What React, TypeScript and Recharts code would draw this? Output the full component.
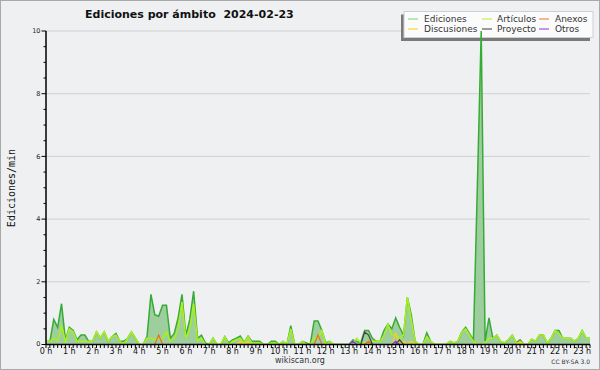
import React from "react";
import { ComposedChart, Area, Line, XAxis, YAxis, ReferenceLine } from "recharts";

// 10-minute slots from 00:00 to 23:20
const SLOTS: number[] = Array.from({ length: 141 }, (_, i) => i);

const HOUR_LABELS = [
  "0 h", "1 h", "2 h", "3 h", "4 h", "5 h", "6 h", "7 h", "8 h", "9 h", "10 h", "11 h",
  "12 h", "13 h", "14 h", "15 h", "16 h", "17 h", "18 h", "19 h", "20 h", "21 h", "22 h", "23 h",
];

const Y_TICKS = [0, 0.5, 1, 1.5, 2, 2.5, 3, 3.5, 4, 4.5, 5, 5.5, 6, 6.5, 7, 7.5, 8, 8.5, 9, 9.5, 10];
const Y_LABELED = [0, 2, 4, 6, 8, 10];
const GRID_VALUES = [2, 4, 6, 8, 10];

const EDICIONES = [
  0.1, 0.1, 0.8, 0.55, 1.3, 0.15, 0.55, 0.45, 0.15, 0.3,
  0.3, 0.1, 0.1, 0.4, 0.2, 0.4, 0.1, 0.25, 0.35, 0.1,
  0.1, 0.2, 0.4, 0.2, 0, 0, 0.25, 1.6, 0.95, 0.9,
  1.25, 1.25, 0.2, 0.35, 0.85, 1.6, 0.3, 0.8, 1.7, 0.2,
  0.3, 0.05, 0, 0.2, 0, 0, 0.25, 0.05, 0.15, 0.2,
  0.27, 0.07, 0.27, 0.1, 0.1, 0.1, 0, 0, 0.1, 0.1,
  0, 0.1, 0, 0.6, 0, 0, 0.1, 0.05, 0, 0.75,
  0.75, 0.45, 0.05, 0.1, 0, 0, 0, 0, 0, 0.15,
  0.1, 0.05, 0.45, 0.45, 0.2, 0.1, 0.1, 0.45, 0.65, 0.5,
  0.85, 0.55, 0.3, 1.5, 0.95, 0.1, 0, 0, 0.37, 0.1,
  0, 0, 0, 0, 0.1, 0.05, 0.1, 0.4, 0.55, 0.35,
  0.15, 5, 10, 0.1, 0.85, 0.2, 0.3, 0.1, 0.05, 0.15,
  0.3, 0.05, 0.15, 0, 0, 0.17, 0.1, 0.3, 0.3, 0.05,
  0.2, 0.45, 0.45, 0.2, 0.2, 0.2, 0.1, 0.2, 0.45, 0.2, 0.2,
];

const ARTICULOS = [
  0.1, 0.1, 0.2, 0.1, 0.6, 0.1, 0.5, 0.4, 0.1, 0.1,
  0.1, 0.1, 0.1, 0.4, 0.2, 0.4, 0.1, 0.25, 0.3, 0.1,
  0, 0.2, 0.4, 0.2, 0, 0, 0.2, 0.2, 0.15, 0.2,
  0.2, 0.4, 0.1, 0.2, 0.5, 1.35, 0.2, 0.5, 1.3, 0.1,
  0.2, 0, 0, 0.2, 0, 0, 0.25, 0, 0.1, 0.15,
  0.2, 0.05, 0.25, 0.05, 0.05, 0.05, 0, 0, 0.05, 0.05,
  0, 0.1, 0, 0.5, 0, 0, 0.1, 0, 0, 0.2,
  0.2, 0.45, 0, 0.1, 0, 0, 0, 0, 0, 0.05,
  0.2, 0.05, 0.05, 0.05, 0.1, 0.1, 0.1, 0.3, 0.65, 0.3,
  0.3, 0.2, 0.3, 1.5, 0.8, 0.1, 0, 0, 0.25, 0.1,
  0, 0, 0, 0, 0.1, 0.05, 0.1, 0.4, 0.5, 0.3,
  0.1, 0, 0, 0.05, 0.2, 0.2, 0.3, 0.1, 0.05, 0.15,
  0.3, 0.05, 0.05, 0, 0, 0.17, 0.1, 0.3, 0.3, 0.05,
  0.2, 0.45, 0.35, 0.2, 0.2, 0.2, 0.1, 0.2, 0.45, 0.2, 0.2,
];

const ANEXOS = [
  0, 0, 0, 0, 0, 0, 0, 0, 0, 0,
  0, 0, 0, 0, 0, 0, 0, 0, 0, 0,
  0, 0, 0, 0, 0, 0, 0, 0, 0, 0.3,
  0, 0, 0, 0, 0, 0, 0, 0, 0, 0,
  0, 0, 0, 0, 0, 0, 0, 0, 0, 0,
  0, 0, 0, 0, 0, 0, 0, 0, 0, 0,
  0, 0, 0, 0, 0, 0, 0, 0, 0, 0,
  0.3, 0, 0, 0, 0, 0, 0, 0, 0, 0,
  0, 0, 0, 0.1, 0, 0, 0, 0, 0, 0,
  0, 0, 0, 0, 0, 0, 0, 0, 0, 0,
  0, 0, 0, 0, 0, 0, 0, 0, 0, 0,
  0, 0, 0, 0, 0, 0, 0, 0, 0, 0,
  0, 0, 0, 0, 0, 0, 0, 0, 0, 0,
  0, 0, 0, 0, 0, 0, 0, 0, 0, 0, 0,
];

const DISCUSIONES = [
  0, 0, 0, 0, 0, 0, 0, 0, 0, 0,
  0, 0, 0, 0, 0, 0, 0, 0, 0, 0,
  0, 0, 0, 0, 0, 0, 0, 0, 0, 0,
  0, 0, 0, 0, 0, 0, 0, 0, 0, 0,
  0, 0, 0, 0, 0, 0, 0, 0, 0, 0,
  0.1, 0, 0.1, 0, 0, 0, 0, 0, 0, 0,
  0, 0, 0, 0, 0, 0, 0, 0, 0, 0,
  0, 0, 0, 0, 0, 0, 0, 0, 0, 0,
  0, 0, 0, 0, 0, 0, 0, 0, 0, 0,
  0.35, 0, 0.1, 0, 0.1, 0, 0, 0, 0, 0,
  0, 0, 0, 0, 0, 0, 0, 0, 0, 0,
  0, 0, 0, 0, 0, 0, 0, 0, 0, 0,
  0, 0, 0.1, 0, 0, 0, 0, 0, 0, 0,
  0, 0, 0, 0, 0, 0, 0, 0, 0, 0, 0,
];

const PROYECTO = [
  0, 0, 0, 0, 0, 0, 0, 0, 0, 0,
  0, 0, 0, 0, 0, 0, 0, 0, 0, 0,
  0, 0, 0, 0, 0, 0, 0, 0, 0, 0,
  0, 0, 0, 0, 0, 0, 0, 0, 0, 0,
  0, 0, 0, 0, 0, 0, 0, 0, 0, 0,
  0, 0, 0, 0, 0, 0, 0, 0, 0, 0,
  0, 0, 0, 0, 0, 0, 0, 0, 0, 0,
  0, 0, 0, 0, 0, 0, 0, 0, 0, 0,
  0, 0, 0.4, 0.3, 0, 0, 0, 0, 0, 0,
  0, 0.15, 0, 0, 0, 0, 0, 0, 0, 0,
  0, 0, 0, 0, 0, 0, 0, 0, 0, 0,
  0, 0, 0, 0, 0, 0, 0, 0, 0, 0,
  0, 0, 0, 0, 0, 0, 0, 0, 0, 0,
  0, 0, 0, 0, 0, 0, 0, 0, 0, 0, 0,
];

const OTROS = [
  0, 0, 0, 0, 0, 0, 0, 0, 0, 0,
  0, 0, 0, 0, 0, 0, 0, 0, 0, 0,
  0, 0, 0, 0, 0, 0, 0, 0, 0, 0,
  0, 0, 0, 0, 0, 0, 0, 0, 0, 0,
  0, 0, 0, 0, 0, 0, 0, 0, 0, 0,
  0, 0, 0, 0, 0, 0, 0, 0, 0, 0,
  0, 0, 0, 0, 0, 0, 0, 0, 0, 0,
  0, 0, 0, 0, 0, 0, 0, 0, 0, 0.1,
  0, 0, 0, 0, 0, 0, 0, 0, 0, 0,
  0.1, 0, 0, 0, 0, 0, 0, 0, 0, 0,
  0, 0, 0, 0, 0, 0, 0, 0, 0, 0,
  0, 0, 0, 0, 0, 0, 0, 0, 0, 0,
  0, 0, 0, 0, 0, 0, 0, 0, 0, 0,
  0, 0, 0, 0, 0, 0, 0, 0, 0, 0, 0,
];

const LEGEND = [
  { name: "Ediciones", color: "#8fd68f" },
  { name: "Artículos", color: "#c8ee55" },
  { name: "Anexos", color: "#ee8850" },
  { name: "Discusiones", color: "#ffd23c" },
  { name: "Proyecto", color: "#5a5a5a" },
  { name: "Otros", color: "#9a55e8" },
];

const MARGIN = { top: 31, right: 10, bottom: 0.5, left: 0 };
const Y_W = 46;
const X_H = 25;
const FONT = "DejaVu Sans, Verdana, sans-serif";
const layer: React.CSSProperties = { position: "absolute", left: 0, top: 0, width: 600, height: 370 };

const XTick = (props: any) => {
  const { x, y, payload } = props;
  const v = payload.value as number;
  const isHour = v % 6 === 0;
  return (
    <g>
      <line x1={x} x2={x} y1={y} y2={y + 3.5} stroke="#000" strokeWidth={1} />
      {isHour && (
        <text x={x} y={y + 9.5} textAnchor="middle" fontSize={8} fontFamily={FONT} fill="#111">
          {HOUR_LABELS[v / 6]}
        </text>
      )}
    </g>
  );
};

const YTick = (props: any) => {
  const { x, y, payload } = props;
  const v = payload.value as number;
  const labeled = Y_LABELED.indexOf(v) >= 0;
  return (
    <g>
      <line x1={labeled ? x - 4.5 : x - 2.5} x2={x} y1={y} y2={y} stroke="#000" strokeWidth={1} />
      {labeled && (
        <text x={x - 5.5} y={y + (v === 0 ? 1.5 : 2.3)} textAnchor="end" fontSize={6.5} fontFamily={FONT} fill="#222">
          {v}
        </text>
      )}
    </g>
  );
};

export default function App() {
  const data = SLOTS.map((s, i) => ({
    slot: s,
    ediciones: EDICIONES[i],
    articulos: ARTICULOS[i],
    anexos: ANEXOS[i],
    discusiones: DISCUSIONES[i],
    proyecto: PROYECTO[i],
    otros: OTROS[i],
  }));

  const cols = [
    { lx: 408, tx: 424 },
    { lx: 482, tx: 497 },
    { lx: 539, tx: 555 },
  ];
  const rows = [19, 29];

  return (
    <div style={{ position: "absolute", left: 0, top: 0, width: 600, height: 370, background: "#eff0f2", overflow: "hidden" }}>
      {/* grid layer (below the legend) */}
      <div style={layer}>
        <ComposedChart width={600} height={370} data={data} margin={MARGIN}>
          <Line dataKey="ediciones" stroke="none" dot={false} activeDot={false} legendType="none" isAnimationActive={false} />
          <XAxis dataKey="slot" type="number" domain={[0, 140]} height={X_H} tick={false} tickLine={false} axisLine={false} />
          <YAxis type="number" domain={[0, 10]} ticks={GRID_VALUES} width={Y_W} tick={false} tickLine={false} axisLine={false} allowDataOverflow />
          {GRID_VALUES.map((v) => (
            <ReferenceLine key={v} y={v} stroke="#cfd0d2" strokeWidth={1} />
          ))}
        </ComposedChart>
      </div>

      {/* title, legend and labels */}
      <svg style={layer} width={600} height={370}>
        <text x={85} y={18} fontSize={11} fontWeight="bold" fontFamily={FONT} fill="#111">
          Ediciones por ámbito{"\u00a0\u00a0"}2024-02-23
        </text>
        <rect x={401} y={14.5} width={189} height={26.5} fill="#7a7a7a" />
        <rect x={404} y={11.5} width={189} height={26} fill="#fbfbfb" stroke="#cfcfcf" strokeWidth={1} />
        {LEGEND.map((item, k) => {
          const c = cols[k % 3];
          const r = rows[Math.floor(k / 3)];
          return (
            <g key={item.name}>
              <line x1={c.lx} x2={c.lx + 10} y1={r} y2={r} stroke={item.color} strokeWidth={1.2} />
              <text x={c.tx} y={r + 3.3} fontSize={9} fontFamily={FONT} fill="#333">
                {item.name}
              </text>
            </g>
          );
        })}
        <text
          x={15}
          y={188}
          transform="rotate(-90 15 188)"
          textAnchor="middle"
          fontSize={10}
          fontFamily="DejaVu Sans Mono, monospace"
          fill="#111"
        >
          Ediciones/min
        </text>
        <text x={300} y={363} textAnchor="middle" fontSize={8} fontFamily={FONT} fill="#333">
          wikiscan.org
        </text>
        <text x={590} y={364} textAnchor="end" fontSize={6} fontFamily={FONT} fill="#333">
          CC BY-SA 3.0
        </text>
      </svg>

      {/* series + axes layer */}
      <div style={layer}>
        <ComposedChart width={600} height={370} data={data} margin={MARGIN}>
          <Area
            type="linear"
            dataKey="ediciones"
            name="Ediciones"
            stroke="#36ab36"
            strokeWidth={1.5}
            fill="#9ecd9e"
            fillOpacity={1}
            dot={false}
            activeDot={false}
            isAnimationActive={false}
          />
          <Line type="linear" dataKey="articulos" name="Artículos" stroke="#aaf01c" strokeWidth={1.5} dot={false} activeDot={false} isAnimationActive={false} />
          <Line type="linear" dataKey="anexos" name="Anexos" stroke="#ee6a22" strokeWidth={1.2} dot={false} activeDot={false} isAnimationActive={false} />
          <Line type="linear" dataKey="discusiones" name="Discusiones" stroke="#ffcc22" strokeWidth={1.2} dot={false} activeDot={false} isAnimationActive={false} />
          <Line type="linear" dataKey="proyecto" name="Proyecto" stroke="#444444" strokeWidth={1.2} dot={false} activeDot={false} isAnimationActive={false} />
          <Line type="linear" dataKey="otros" name="Otros" stroke="#8838e0" strokeWidth={1.2} dot={false} activeDot={false} isAnimationActive={false} />
          <XAxis
            dataKey="slot"
            type="number"
            domain={[0, 140]}
            ticks={SLOTS}
            interval={0}
            height={X_H}
            tickSize={0}
            tickMargin={0}
            tickLine={false}
            axisLine={{ stroke: "#000", strokeWidth: 1.5 }}
            tick={(p: any) => <XTick {...p} />}
          />
          <YAxis
            type="number"
            domain={[0, 10]}
            ticks={Y_TICKS}
            interval={0}
            width={Y_W}
            tickSize={0}
            tickMargin={0}
            tickLine={false}
            axisLine={{ stroke: "#000", strokeWidth: 1.5 }}
            tick={(p: any) => <YTick {...p} />}
            allowDataOverflow
          />
        </ComposedChart>
      </div>

      <div style={{ ...layer, boxSizing: "border-box", border: "1px solid #a9a9a9", pointerEvents: "none" }} />
    </div>
  );
}
